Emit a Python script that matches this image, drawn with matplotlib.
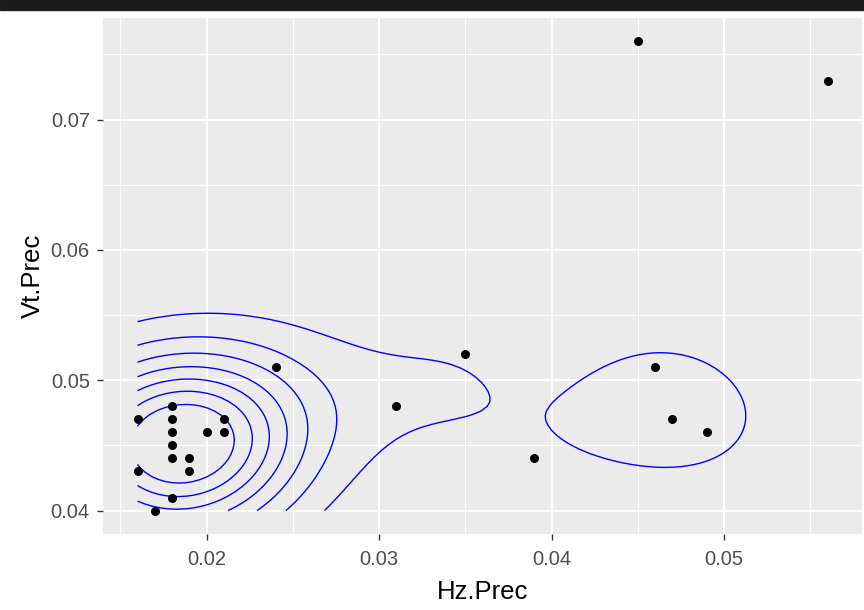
import numpy as np
import matplotlib
matplotlib.use("Agg")
import matplotlib.pyplot as plt
from matplotlib.patches import Rectangle

# data
hz_prec = [0.016, 0.016, 0.017, 0.018, 0.018, 0.018, 0.018, 0.018, 0.018,
           0.019, 0.019, 0.020, 0.021, 0.021, 0.024, 0.031, 0.035, 0.039,
           0.045, 0.046, 0.047, 0.049, 0.056]
vt_prec = [0.047, 0.043, 0.040, 0.048, 0.047, 0.046, 0.045, 0.044, 0.041,
           0.044, 0.043, 0.046, 0.047, 0.046, 0.051, 0.048, 0.052, 0.044,
           0.076, 0.051, 0.047, 0.046, 0.073]
# overplotted points (guessed from how tall the density peak is)
counts = [1, 1, 1, 1, 1, 2, 2, 1, 1,
          2, 1, 2, 1, 1, 1, 1, 1, 1,
          1, 1, 1, 1, 1]
x_ticks = [0.02, 0.03, 0.04, 0.05]
y_ticks = [0.04, 0.05, 0.06, 0.07]
x_minor = [0.015, 0.025, 0.035, 0.045, 0.055]
y_minor = [0.045, 0.055, 0.065, 0.075]

# kde bandwidths and contour spacing
bw = (0.0045, 0.0043)
n_bands = 8.5


def kde2d(x, y, w, n=100):
    # weighted gaussian kde on a grid spanning the data (like MASS::kde2d)
    x = np.asarray(x)
    y = np.asarray(y)
    w = np.asarray(w, dtype=float)
    gx = np.linspace(x.min(), x.max(), n)
    gy = np.linspace(y.min(), y.max(), n)
    ax = (gx[:, None] - x[None, :]) / bw[0]
    ay = (gy[:, None] - y[None, :]) / bw[1]
    dx = np.exp(-0.5 * ax ** 2) * w
    dy = np.exp(-0.5 * ay ** 2)
    z = dx @ dy.T / (2 * np.pi * w.sum() * bw[0] * bw[1])
    return gx, gy, z


gx, gy, z = kde2d(hz_prec, vt_prec, counts)
step = z.max() / n_bands
levels = step * np.arange(1, 8)

fig = plt.figure(figsize=(8.64, 6.10), dpi=100)
ax = fig.add_axes([103 / 864, 1 - 534 / 610, (862 - 103) / 864, (534 - 18) / 610])

# dark strip at the very top of the screenshot
fig.patches.append(Rectangle((0, 1 - 10 / 610), 1, 10 / 610, transform=fig.transFigure,
                             color="#1c1c1c", zorder=10))

ax.set_facecolor("#EBEBEB")
for s in ax.spines.values():
    s.set_visible(False)

for v in x_minor:
    ax.axvline(v, color="white", lw=0.75, zorder=0)
for v in y_minor:
    ax.axhline(v, color="white", lw=0.75, zorder=0)
for v in x_ticks:
    ax.axvline(v, color="white", lw=1.5, zorder=0)
for v in y_ticks:
    ax.axhline(v, color="white", lw=1.5, zorder=0)

ax.contour(gx, gy, z.T, levels=levels, colors="#0000FF", linewidths=1.0, zorder=2)
ax.scatter(hz_prec, vt_prec, s=42, color="black", zorder=3, linewidths=0)

xr = max(hz_prec) - min(hz_prec)
yr = max(vt_prec) - min(vt_prec)
ax.set_xlim(min(hz_prec) - 0.05 * xr, max(hz_prec) + 0.05 * xr)
ax.set_ylim(min(vt_prec) - 0.05 * yr, max(vt_prec) + 0.05 * yr)

ax.set_xticks(x_ticks)
ax.set_yticks(y_ticks)
ax.set_xticklabels(["0.02", "0.03", "0.04", "0.05"])
ax.set_yticklabels(["0.04", "0.05", "0.06", "0.07"])
ax.tick_params(colors="#333333", labelcolor="#4D4D4D", labelsize=14.5,
               length=4.5, width=1, pad=5)
ax.tick_params(axis="x", pad=7)
for lab in ax.get_xticklabels() + ax.get_yticklabels():
    lab.set_family("Liberation Sans")

ax.set_xlabel("Hz.Prec", fontsize=18.5, family="Liberation Sans", labelpad=8)
ax.set_ylabel("Vt.Prec", fontsize=18.5, family="Liberation Sans", labelpad=4)

fig.savefig("out.png", dpi=100)
